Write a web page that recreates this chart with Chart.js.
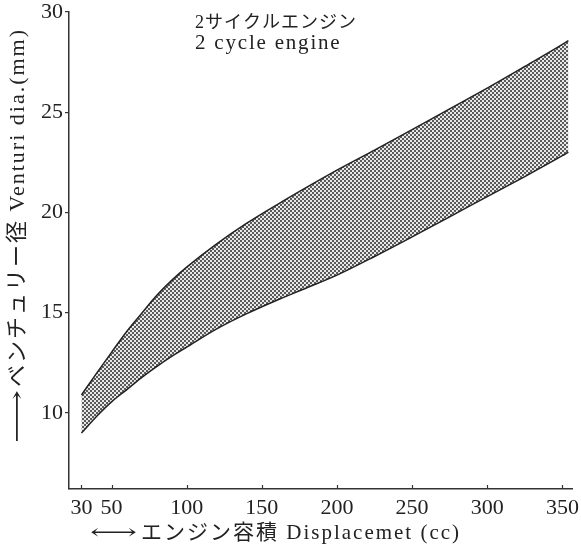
<!DOCTYPE html>
<html><head><meta charset="utf-8">
<script src="https://cdn.jsdelivr.net/npm/chart.js@4/dist/chart.umd.min.js"></script>
<style>html,body{margin:0;padding:0;background:#fff;}#wrap{width:581px;height:550px;}</style>
</head><body><div id="wrap"><canvas id="c" width="581" height="550"></canvas></div>
<script>
// Data (displacement in cc, venturi diameter in mm)
const displacement = [30,40,50,60,70,80,90,100,120,140,160,180,200,225,250,275,300,325,350,354];
const venturiUpper = [10.89,11.97,13.02,14.05,14.96,15.85,16.61,17.27,18.43,19.46,20.38,21.26,22.11,23.11,24.13,25.17,26.20,27.28,28.38,28.57];
const venturiLower = [8.99,9.82,10.55,11.15,11.76,12.31,12.82,13.28,14.19,14.95,15.62,16.24,16.87,17.80,18.78,19.78,20.79,21.79,22.83,23.01];
const xTickValues = [30,50,100,150,200,250,300,350];
const yTickValues = [10,15,20,25,30];
const titleLines = ['2サイクルエンジン','2 cycle engine'];
const arrowBoth = '⟷';
const arrowUp = '⟶';
const xTitle = 'エンジン容積 Displacemet (cc)';
const yTitle = 'ベンチュリー径 Venturi dia.(mm)';

const SERIF = "'Liberation Serif', 'DejaVu Serif', 'Noto Sans CJK JP', serif";
const INK = '#222';

function makePattern(){
  const t = document.createElement('canvas');
  t.width = 4; t.height = 4;
  const g = t.getContext('2d');
  g.fillStyle = '#e8e8e8'; g.fillRect(0,0,4,4);
  g.fillStyle = '#5a5a5a'; g.fillRect(0,0,2,2); g.fillRect(2,2,2,2);
  return document.getElementById('c').getContext('2d').createPattern(t,'repeat');
}

const decor = {
  id:'decor',
  afterDraw(chart){
    const {ctx, scales:{x, y}} = chart;
    ctx.save();
    // inward x tick marks
    ctx.strokeStyle = '#333'; ctx.lineWidth = 1.2;
    xTickValues.forEach(v => {
      const px = Math.round(x.getPixelForValue(v)) + 0.5;
      ctx.beginPath(); ctx.moveTo(px, y.bottom); ctx.lineTo(px, y.bottom - 4); ctx.stroke();
    });
    ctx.fillStyle = INK;
    // in-plot title
    ctx.textAlign = 'left'; ctx.textBaseline = 'alphabetic';
    ctx.font = "18px " + SERIF; ctx.letterSpacing = '1px';
    ctx.fillText(titleLines[0], 195, 28);
    ctx.font = "21px " + SERIF; ctx.letterSpacing = '1.8px';
    ctx.fillText(titleLines[1], 195, 49);
    // x axis title
    ctx.textBaseline = 'middle';
    ctx.font = "21px " + SERIF; ctx.letterSpacing = '0px';
    ctx.save();
    ctx.translate(90, 533);
    const aw = ctx.measureText(arrowBoth).width;
    ctx.scale(47 / aw, 1);
    ctx.fillText(arrowBoth, 0, 0);
    ctx.restore();
    ctx.letterSpacing = '2px';
    ctx.fillText(xTitle, 141, 533);
    // y axis title (rotated)
    ctx.translate(18, 443); ctx.rotate(-Math.PI/2);
    ctx.font = "22px " + SERIF; ctx.letterSpacing = '0px';
    ctx.save();
    const aw2 = ctx.measureText(arrowUp).width;
    ctx.scale(53 / aw2, 1);
    ctx.fillText(arrowUp, 0, 0);
    ctx.restore();
    ctx.letterSpacing = '2px';
    ctx.fillText(yTitle, 56, 0);
    ctx.restore();
  }
};

const ctx = document.getElementById('c').getContext('2d');
new Chart(ctx, {
  type:'line',
  data:{datasets:[
    {data: displacement.map((d,i)=>({x:d, y:venturiLower[i]})), borderColor:INK, borderWidth:1.5, pointRadius:0, fill:false, cubicInterpolationMode:'monotone'},
    {data: displacement.map((d,i)=>({x:d, y:venturiUpper[i]})), borderColor:INK, borderWidth:1.5, pointRadius:0, fill:'-1', backgroundColor:makePattern(), cubicInterpolationMode:'monotone'}
  ]},
  options:{
    responsive:false, animation:false, devicePixelRatio:1,
    layout:{padding:{top:12, right:9, left:0, bottom:0}},
    plugins:{legend:{display:false}, tooltip:{enabled:false}},
    scales:{
      x:{type:'linear', min:21.7, max:356.4,
        afterBuildTicks:s=>{s.ticks = xTickValues.map(v=>({value:v}));},
        afterFit:s=>{s.height = 61; s.paddingLeft = 0; s.paddingRight = 0;},
        grid:{display:false},
        border:{display:true, color:'#333', width:1.5},
        ticks:{autoSkip:false, maxRotation:0, minRotation:0, padding:-2, color:INK, font:{family:SERIF, size:22}}},
      y:{type:'linear', min:6.2, max:30,
        afterBuildTicks:s=>{s.ticks = yTickValues.map(v=>({value:v}));},
        afterFit:s=>{s.width = 69; s.paddingTop = 0; s.paddingBottom = 0;},
        grid:{display:true, drawOnChartArea:false, drawTicks:true, tickLength:4, color:'#333', lineWidth:1.2},
        border:{display:true, color:'#333', width:1.5},
        ticks:{padding:2, color:INK, font:{family:SERIF, size:22}}}
    }
  },
  plugins:[decor]
});
</script></body></html>
